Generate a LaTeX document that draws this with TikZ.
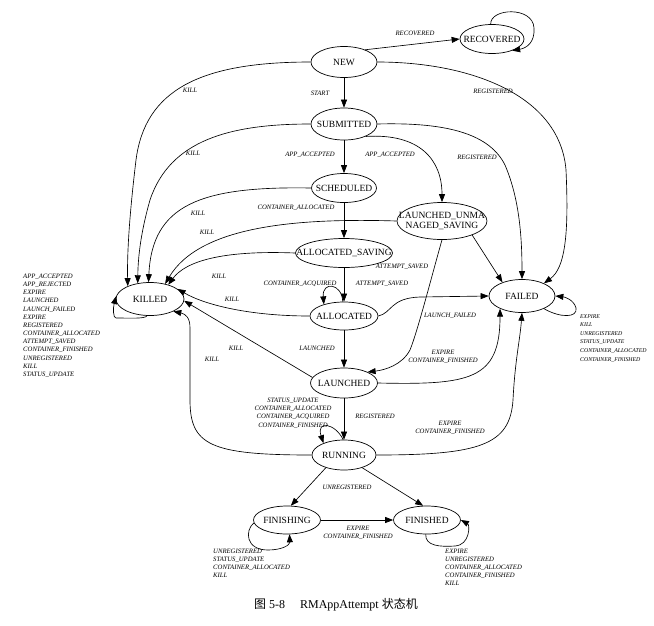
\documentclass[tikz,border=0pt]{standalone}
\usepackage{fontspec}
\setmainfont{Liberation Serif}
\newfontfamily\cjk{Noto Sans CJK SC}
\usetikzlibrary{shapes.geometric,arrows.meta}

\begin{document}
\begin{tikzpicture}[x=1pt, y=-1pt, >={Triangle[length=8pt,width=6pt]}]
                            \tikzset{attstate/.style={draw, ellipse, line width=0.7pt, inner sep=0pt, font=\fontsize{9.5}{10}\selectfont,
                                execute at begin node={\hbox to 0pt\bgroup\hss}, execute at end node={\hss\egroup}}}
                            \tikzset{lbl/.style={font=\fontsize{6.7}{8.2}\selectfont\itshape, inner sep=0pt}}
                            \tikzset{lst/.style={lbl, align=left, anchor=north west}}
                            \tikzset{tr/.style={->, line width=0.65pt}}
                            \useasboundingbox (0,0) rectangle (654,625);
                            \node[attstate, minimum width=66, minimum height=31] (new) at (344,62) {NEW};
                            \node[attstate, minimum width=64, minimum height=29] (recovered) at (492,39) {RECOVERED};
                            \node[attstate, minimum width=66, minimum height=32] (submitted) at (344,124) {SUBMITTED};
                            \node[attstate, minimum width=65, minimum height=29] (scheduled) at (344,188) {SCHEDULED};
                            \node[attstate, minimum width=90, minimum height=37] (unmanaged) at (442,221) {\begin{tabular}{@{}c@{}}LAUNCHED\_UNMA\\NAGED\_SAVING\end{tabular}};
                            \node[attstate, minimum width=97, minimum height=29] (allocsaving) at (344,253) {ALLOCATED\_SAVING};
                            \node[attstate, minimum width=68, minimum height=33] (killed) at (150,299) {KILLED};
                            \node[attstate, minimum width=66, minimum height=33] (failed) at (522,296) {FAILED};
                            \node[attstate, minimum width=68, minimum height=28] (allocated) at (344,316) {ALLOCATED};
                            \node[attstate, minimum width=67, minimum height=30] (launched) at (344,383) {LAUNCHED};
                            \node[attstate, minimum width=64, minimum height=30] (running) at (344,455) {RUNNING};
                            \node[attstate, minimum width=67, minimum height=28] (finishing) at (287,520) {FINISHING};
                            \node[attstate, minimum width=67, minimum height=28] (finished) at (427,520) {FINISHED};
                            \draw[tr] (new.30) -- (recovered.west);
                            \draw[tr] (recovered.95) .. controls (490,8) and (533,6) .. (534,28) .. controls (535,42) and (527,48) .. (recovered.-30);
                            \draw[tr] (new) -- (submitted);
                            \draw[tr] (new.west) .. controls (200,62) and (145,90) .. (136,160) .. controls (130,210) and (127,250) .. (killed.150);
                            \draw[tr] (new.east) .. controls (470,62) and (560,95) .. (566,170) .. controls (569,235) and (565,268) .. (failed.30);
                            \draw[tr] (submitted.west) .. controls (230,124) and (170,140) .. (150,200) .. controls (140,235) and (138,260) .. (killed.128);
                            \draw[tr] (submitted) -- (scheduled);
                            \draw[tr] (submitted.-30) .. controls (420,133) and (442,160) .. (unmanaged.north);
                            \draw[tr] (submitted.east) .. controls (450,122) and (490,135) .. (505,165) .. controls (520,200) and (522,240) .. (failed.north);
                            \draw[tr] (scheduled.west) .. controls (200,186) and (152,205) .. (killed.95);
                            \draw[tr] (scheduled) -- (allocsaving);
                            \draw[tr] (unmanaged.west) .. controls (300,218) and (200,225) .. (killed.45);
                            \draw[tr] (unmanaged.-25) -- (failed.145);
                            \draw[tr] (unmanaged.south) .. controls (432,275) and (418,330) .. (410,350) .. controls (402,365) and (385,370) .. (launched.25);
                            \draw[tr] (allocsaving.west) .. controls (220,250) and (185,262) .. (killed.38);
                            \draw[tr] (allocsaving) -- (allocated);
                            \draw[tr] (allocated.95) .. controls (342,283) and (322,281) .. (allocated.150);
                            \draw[tr] (allocated.west) .. controls (250,316) and (205,305) .. (killed.20);
                            \draw[tr] (allocated) -- (launched);
                            \draw[tr] (allocated.east) .. controls (392,313) and (390,298) .. (420,297) -- (failed.west);
                            \draw[tr] (launched.170) -- (killed.-3);
                            \draw[tr] (launched.east) .. controls (470,385) and (500,380) .. (failed.-150);
                            \draw[tr] (launched) -- (running);
                            \draw[tr] (running.93) .. controls (335,423) and (316,420) .. (running.150);
                            \draw[tr] (running.west) .. controls (210,455) and (190,445) .. (190,400) -- (190,328) .. controls (190,318) and (186,314) .. (killed.-28);
                            \draw[tr] (running.east) .. controls (480,455) and (510,445) .. (513,400) .. controls (515,360) and (520,340) .. (failed.south);
                            \draw[tr] (running.-145) -- (finishing.75);
                            \draw[tr] (running.-35) -- (finished.105);
                            \draw[tr] (finishing) -- (finished);
                            \draw[tr] (finishing.185) .. controls (245,530) and (245,550) .. (268,550) .. controls (282,550) and (290,545) .. (finishing.-80);
                            \draw[tr] (finished.-95) .. controls (425,546) and (440,547) .. (455,546) .. controls (470,545) and (470,525) .. (finished.east);
                            \draw[tr] (killed.-100) .. controls (145,319) and (130,318) .. (116,318) .. controls (113,318) and (113,308) .. (killed.175);
                            \draw[tr] (failed.-30) .. controls (560,318) and (578,318) .. (576,308) .. controls (574,300) and (565,297) .. (failed.east);
                            \node[lbl] (lrec) at (415,33) {RECOVERED};
                            \node[lbl] (lstart) at (320,93) {START};
                            \node[lbl] (lkill1) at (190,90) {KILL};
                            \node[lbl] (lreg1) at (493,91) {REGISTERED};
                            \node[lbl] (lkill2) at (193,153) {KILL};
                            \node[lbl] (lacc1) at (310,155) {APP\_ACCEPTED};
                            \node[lbl] (lacc2) at (390,155) {APP\_ACCEPTED};
                            \node[lbl] (lreg2) at (477,157) {REGISTERED};
                            \node[lbl] (lkill3) at (198,213) {KILL};
                            \node[lbl] (lkill4) at (207,232) {KILL};
                            \node[lbl] (lcalloc) at (296,208) {CONTAINER\_ALLOCATED};
                            \node[lbl] (lsaved1) at (402,267) {ATTEMPT\_SAVED};
                            \node[lbl] (lkill5) at (219,276) {KILL};
                            \node[lbl] (lacq) at (300,284) {CONTAINER\_ACQUIRED};
                            \node[lbl] (lsaved2) at (382,284) {ATTEMPT\_SAVED};
                            \node[lbl] (lkill6) at (232,299) {KILL};
                            \node[lbl] (lfail) at (450,316) {LAUNCH\_FAILED};
                            \node[lbl] (llaunch) at (317,348) {LAUNCHED};
                            \node[lbl] (lkill7) at (236,348) {KILL};
                            \node[lbl] (lkill8) at (212,359) {KILL};
                            \node[lbl, align=center] (lexp1) at (443,357) {EXPIRE\\CONTAINER\_FINISHED};
                            \node[lbl, align=center] (lrunloop) at (293,413) {STATUS\_UPDATE\\CONTAINER\_ALLOCATED\\CONTAINER\_ACQUIRED\\CONTAINER\_FINISHED};
                            \node[lbl] (lreg3) at (375,416) {REGISTERED};
                            \node[lbl, align=center] (lexp2) at (450,428) {EXPIRE\\CONTAINER\_FINISHED};
                            \node[lbl] (lunreg) at (347,487) {UNREGISTERED};
                            \node[lbl, align=center] (lexp3) at (358,533) {EXPIRE\\CONTAINER\_FINISHED};
                            \node[lst, font=\fontsize{6.7}{8.17}\selectfont\itshape] (lkilled) at (23,273.8) {APP\_ACCEPTED\\APP\_REJECTED\\EXPIRE\\LAUNCHED\\LAUNCH\_FAILED\\EXPIRE\\REGISTERED\\CONTAINER\_ALLOCATED\\ATTEMPT\_SAVED\\CONTAINER\_FINISHED\\UNREGISTERED\\KILL\\STATUS\_UPDATE};
                            \node[lst, font=\fontsize{5.8}{8.6}\selectfont\itshape] (lfailed) at (580,314) {EXPIRE\\KILL\\UNREGISTERED\\STATUS\_UPDATE\\CONTAINER\_ALLOCATED\\CONTAINER\_FINISHED};
                            \node[lst, font=\fontsize{6.7}{8}\selectfont\itshape] (lfinishing) at (213,548.8) {UNREGISTERED\\STATUS\_UPDATE\\CONTAINER\_ALLOCATED\\KILL};
                            \node[lst, font=\fontsize{6.7}{8}\selectfont\itshape] (lfinished) at (445,548.8) {EXPIRE\\UNREGISTERED\\CONTAINER\_ALLOCATED\\CONTAINER\_FINISHED\\KILL};
                            \node[font=\fontsize{12}{14}\selectfont] (caption) at (336,605) {{\cjk 图} 5-8\quad\ RMAppAttempt {\cjk 状态机}};
                        \end{tikzpicture}
\end{document}
